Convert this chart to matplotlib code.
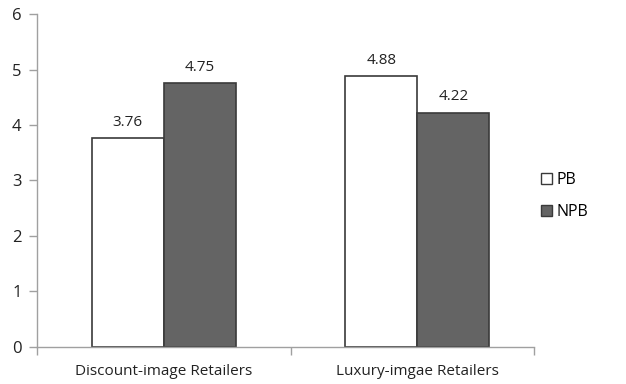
import matplotlib
matplotlib.use("Agg")
import matplotlib.pyplot as plt
from matplotlib.patches import Patch

categories = ["Discount-image Retailers", "Luxury-imgae Retailers"]
pb_values = [3.76, 4.88]
npb_values = [4.75, 4.22]
series_names = ["PB", "NPB"]
y_ticks = [0, 1, 2, 3, 4, 5, 6]

plt.rcParams['font.family'] = ['Open Sans', 'DejaVu Sans']

fig = plt.figure(figsize=(6.26, 3.84), dpi=100)
ax = fig.add_axes([0.059, 0.0964, 0.794, 0.8671])

w = 0.284
edge = "#3a3a3a"
x = [0, 1]
b1 = ax.bar([i - w/2 for i in x], pb_values, w, color="white", edgecolor=edge, linewidth=1.2)
b2 = ax.bar([i + w/2 for i in x], npb_values, w, color="#646464", edgecolor=edge, linewidth=1.2)

for bars, vals in ((b1, pb_values), (b2, npb_values)):
    for r, v in zip(bars, vals):
        ax.text(r.get_x() + r.get_width()/2, v + 0.15, f"{v:.2f}", ha="center", va="bottom",
                fontsize=11, color="#222222")

ax.set_xlim(-0.5, 1.46)
ax.set_ylim(0, 6)
ax.set_yticks(y_ticks)
ax.set_xticks([-0.5, 0.5, 1.46])
ax.set_xticklabels([])
ax.set_xticks(x, minor=True)
ax.set_xticklabels(categories, minor=True, fontsize=11, color="#222222")
ax.tick_params(axis="x", which="minor", length=0, pad=12)
ax.tick_params(axis="x", which="major", length=6, color="#a0a0a0", width=1)
ax.tick_params(axis="y", length=6, color="#a0a0a0", width=1, labelsize=12, labelcolor="#222222", pad=5)

for s in ("top", "right"):
    ax.spines[s].set_visible(False)
for s in ("left", "bottom"):
    ax.spines[s].set_color("#a0a0a0")
    ax.spines[s].set_linewidth(1)

handles = [Patch(facecolor="white", edgecolor=edge, label=series_names[0]),
           Patch(facecolor="#646464", edgecolor=edge, label=series_names[1])]
fig.legend(handles=handles, loc="center left", bbox_to_anchor=(0.842, 0.49), frameon=False,
           fontsize=11.5, handlelength=0.65, handleheight=0.65, handletextpad=0.3, labelspacing=1.0)

fig.savefig("out.png", dpi=100)
